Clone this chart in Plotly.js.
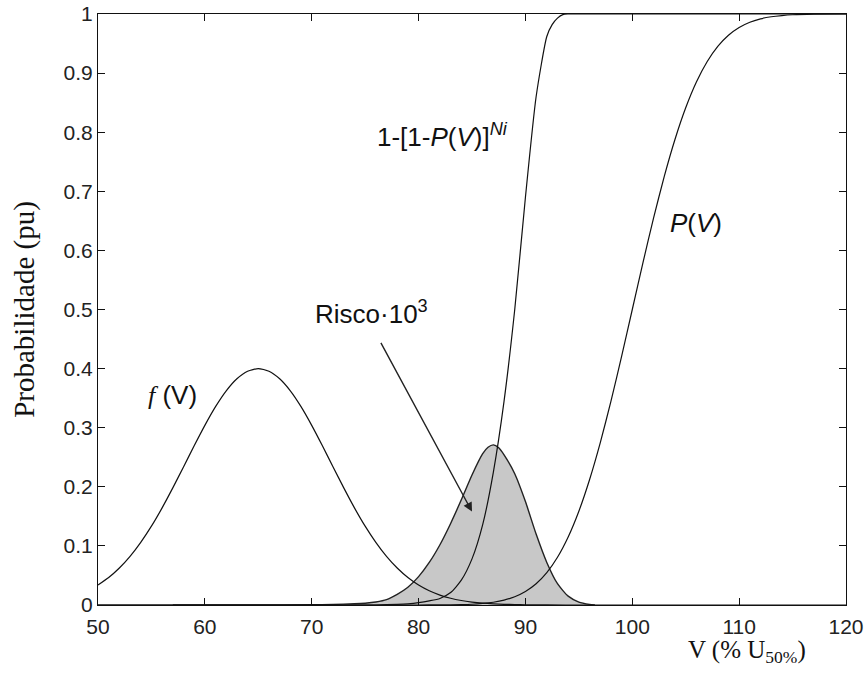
<!DOCTYPE html>
<html>
<head>
<meta charset="utf-8">
<script src="https://cdn.plot.ly/plotly-3.0.1.min.js"></script>
<style>
html,body{margin:0;padding:0;background:#fff;}
#chart{width:866px;height:673px;}
</style>
</head>
<body>
<div id="chart"></div>
<script>
// f(V): distribution of overvoltages
const fV_x = [50,51,52,53,54,55,56,57,58,59,60,61,62,63,64,65,66,67,68,69,70,71,72,73,74,75,76,77,78,79,80,81,82,83,84,85,86,87,88,89,90,92,95,120];
const fV_y = [0.0338,0.0465,0.0626,0.0823,0.1060,0.1334,0.1644,0.1982,0.2336,0.2694,0.3040,0.3356,0.3624,0.3828,0.3956,0.4000,0.3956,0.3828,0.3624,0.3356,0.3040,0.2694,0.2336,0.1982,0.1644,0.1334,0.1060,0.0823,0.0626,0.0465,0.0338,0.0241,0.0168,0.0114,0.0076,0.0050,0.0032,0.0020,0.0012,0.0007,0.0004,0.0001,0,0];

// P(V): breakdown probability of one insulation
const pV_x = [50,60,70,75,80,82,84,85,86,87,88,89,90,91,92,93,94,95,96,97,98,99,100,101,102,103,104,105,106,107,108,109,110,111,112,113,114,115,117,120];
const pV_y = [0,0,0,0,0.0000,0.0002,0.0007,0.0013,0.0026,0.0047,0.0082,0.0139,0.0228,0.0359,0.0548,0.0808,0.1151,0.1587,0.2119,0.2743,0.3446,0.4207,0.5000,0.5793,0.6554,0.7257,0.7881,0.8413,0.8849,0.9192,0.9452,0.9641,0.9772,0.9861,0.9918,0.9953,0.9974,0.9987,0.9997,1.0];

// 1-[1-P(V)]^Ni: breakdown probability of Ni insulations in parallel
const pN_x = [50,70,76,78,79,80,81,82,83,84,85,86,87,88,89,90,91,92,92.5,93,93.5,94,95,120];
const pN_y = [0,0,0,0.001,0.002,0.004,0.007,0.011,0.021,0.042,0.078,0.136,0.225,0.345,0.500,0.690,0.860,0.962,0.982,0.993,0.999,1.0,1.0,1.0];

// Risk density (x 10^3), shaded area
const risk_x = [57,60,65,70,72,74,75,76,77,78,79,80,81,82,83,84,85,86,86.5,87,87.5,88,89,90,91,92,93,94,95,96,96.5];
const risk_y = [0,0,0,0.0005,0.001,0.002,0.003,0.005,0.009,0.018,0.030,0.048,0.072,0.102,0.138,0.178,0.220,0.256,0.267,0.271,0.266,0.254,0.222,0.175,0.120,0.072,0.036,0.015,0.005,0.001,0];

const xTicks = [50,60,70,80,90,100,110,120];
const yTicks = [0,0.1,0.2,0.3,0.4,0.5,0.6,0.7,0.8,0.9,1];

const lineStyle = {color:'#111', width:1.2, shape:'spline', smoothing:0.6};

const traces = [
  {x:risk_x, y:risk_y, type:'scatter', mode:'lines', fill:'tozeroy', fillcolor:'#c8c8c8',
   line:{color:'#222', width:1.4, shape:'spline', smoothing:0.6}, name:'Risco'},
  {x:fV_x, y:fV_y, type:'scatter', mode:'lines', line:lineStyle, name:'f(V)'},
  {x:pV_x, y:pV_y, type:'scatter', mode:'lines', line:lineStyle, name:'P(V)'},
  {x:pN_x, y:pN_y, type:'scatter', mode:'lines', line:lineStyle, name:'1-[1-P(V)]^Ni'}
];

const axisFont = {family:'"Liberation Sans", Arial, sans-serif', size:21, color:'#222'};
const annFont = {family:'"Liberation Sans", Arial, sans-serif', size:26, color:'#111'};
const serif = '"Liberation Serif", "Times New Roman", serif';

const layout = {
  width:866, height:673,
  margin:{l:98, r:20, t:14, b:68},
  paper_bgcolor:'#fff', plot_bgcolor:'#fff',
  showlegend:false,
  xaxis:{
    range:[50,120], tickvals:xTicks, ticktext:xTicks.map(String),
    ticks:'inside', ticklen:7, tickwidth:1, tickcolor:'#111',
    showline:true, linecolor:'#111', linewidth:1, mirror:'ticks',
    showgrid:false, zeroline:false, tickfont:axisFont, ticklabelstandoff:3
  },
  yaxis:{
    range:[0,1], tickvals:yTicks, ticktext:yTicks.map(String),
    ticks:'inside', ticklen:7, tickwidth:1, tickcolor:'#111',
    showline:true, linecolor:'#111', linewidth:1, mirror:'ticks',
    showgrid:false, zeroline:false, tickfont:axisFont,
    title:{text:'Probabilidade (pu)', font:{family:serif, size:29, color:'#111'}, standoff:20}
  },
  annotations:[
    {xref:'paper', yref:'paper', x:0.868, y:-0.078, xanchor:'center', yanchor:'middle', showarrow:false,
     text:'V (% U<sub>50%</sub>)', font:{family:serif, size:25, color:'#111'}},
    {x:57.0, y:0.356, xref:'x', yref:'y', showarrow:false, xanchor:'center', yanchor:'middle',
     text:'<span style="font-family:\'Liberation Serif\',serif;font-style:italic">f</span> (V)', font:annFont},
    {x:75.9, y:0.794, xref:'x', yref:'y', showarrow:false, xanchor:'left', yanchor:'middle',
     text:'1-[1-<i>P</i>(<i>V</i>)]<sup><i>Ni</i></sup>', font:annFont},
    {x:103.35, y:0.647, xref:'x', yref:'y', showarrow:false, xanchor:'left', yanchor:'middle',
     text:'<i>P</i>(<i>V</i>)', font:annFont},
    {x:70.1, y:0.495, xref:'x', yref:'y', showarrow:false, xanchor:'left', yanchor:'middle',
     text:'Risco\u00b710<sup>3</sup>', font:annFont},
    {x:85.0, y:0.158, xref:'x', yref:'y', ax:76.4, ay:0.446, axref:'x', ayref:'y',
     showarrow:true, arrowhead:2, arrowsize:1.3, arrowwidth:1.4, arrowcolor:'#222', text:''}
  ]
};

Plotly.newPlot('chart', traces, layout, {displayModeBar:false, staticPlot:true});
</script>
</body>
</html>
